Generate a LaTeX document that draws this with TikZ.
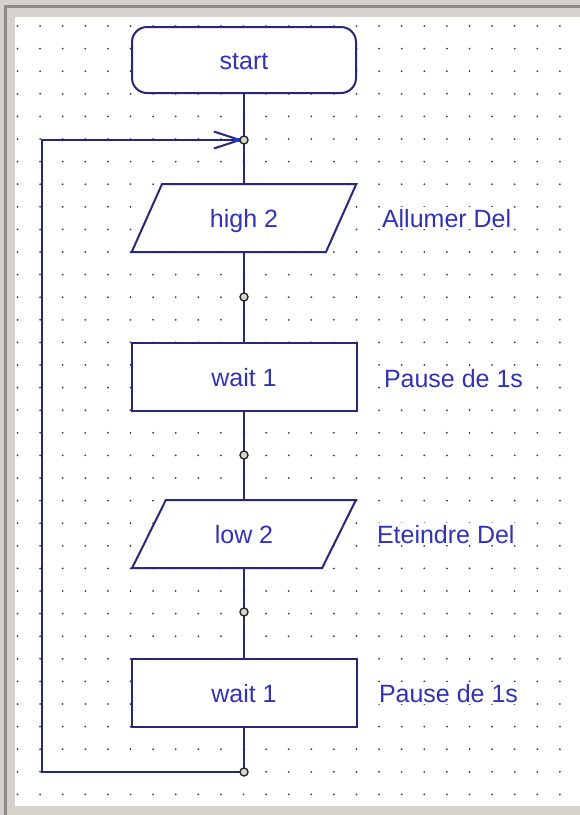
\documentclass[tikz,border=0pt]{standalone}
\usepackage{fontspec}
\setmainfont{Liberation Sans}
\usetikzlibrary{shapes.geometric,arrows.meta}

\definecolor{panelgrey}{RGB}{212,210,202}
\definecolor{panelshade}{RGB}{140,140,140}
\definecolor{gridpt}{RGB}{60,60,60}
\definecolor{flowline}{RGB}{40,40,120}
\definecolor{flowtext}{RGB}{50,50,180}
\definecolor{tipblue}{RGB}{30,60,210}
\definecolor{junctfill}{RGB}{215,215,210}

\tikzset{
  every node/.style={font=\fontsize{25}{30}\selectfont, text=flowtext,
    text height=18pt, text depth=0pt, inner sep=0pt, outer sep=0pt},
  box/.style={draw=flowline, line width=2pt, fill=white,
    minimum width=225pt, minimum height=68pt},
  terminal/.style={box, rounded corners=15pt, minimum width=224pt, minimum height=66pt},
  io/.style={box, trapezium, trapezium left angle=55, trapezium right angle=125,
    trapezium stretches=true},
  comment/.style={anchor=base west, fill=white, inner sep=2pt},
  flow/.style={draw=flowline, line width=2pt},
  junction/.style={circle, draw=black!85, fill=junctfill, line width=1.4pt,
    minimum size=8pt, text height=0pt, text depth=0pt},
}

\begin{document}
\begin{tikzpicture}[x=1pt, y=-1pt]
  \useasboundingbox (0,0) rectangle (580,815);

  % window panel with inset edge
  \fill[panelgrey] (0,0) rectangle (580,815);
  \draw[panelshade, line width=3pt] (5,815) -- (5,6) -- (580,6);
  \fill[white] (15,17) rectangle (580,806);

  % dotted drawing grid
  \foreach \i in {0,...,24}
    \foreach \j in {0,...,34}
      \fill[gridpt] ({17.5+22.6*\i},{26+22.6*\j}) circle (1pt);

  % flowchart blocks
  \node[terminal] (start) at (244,60)  {start};
  \node[io]       (high)  at (244,218) {high 2};
  \node[box]      (wait1) at (244,377) {wait 1};
  \node[io]       (low)   at (244,534) {low 2};
  \node[box]      (wait2) at (244,693) {wait 1};

  % comments
  \node[comment] (c1) at (380,227) {Allumer Del};
  \node[comment] (c2) at (382,387) {Pause de 1s};
  \node[comment] (c3) at (375,543) {Eteindre Del};
  \node[comment] (c4) at (377,702) {Pause de 1s};

  % junction points on the main line
  \coordinate (j1) at (244,140);
  \coordinate (j2) at (244,297);
  \coordinate (j3) at (244,455);
  \coordinate (j4) at (244,612);
  \coordinate (j5) at (244,772);
  \coordinate (lb) at (42,772);
  \coordinate (lt) at (42,140);

  % main flow
  \draw[flow] (start) -- (j1) -- (high);
  \draw[flow] (high) -- (j2) -- (wait1);
  \draw[flow] (wait1) -- (j3) -- (low);
  \draw[flow] (low) -- (j4) -- (wait2);
  \draw[flow] (wait2) -- (j5);

  % loop back to the top
  \draw[flow, -{Straight Barb[length=26pt,width=17pt]}, shorten >=1pt]
    (j5) -- (lb) -- (lt) -- (j1);
  \draw[tipblue, line width=4pt] ([xshift=-10pt]j1) -- ([xshift=-3pt]j1);

  % junction markers
  \foreach \k in {1,...,5}
    \node[junction] (jn\k) at (j\k) {};
\end{tikzpicture}
\end{document}
